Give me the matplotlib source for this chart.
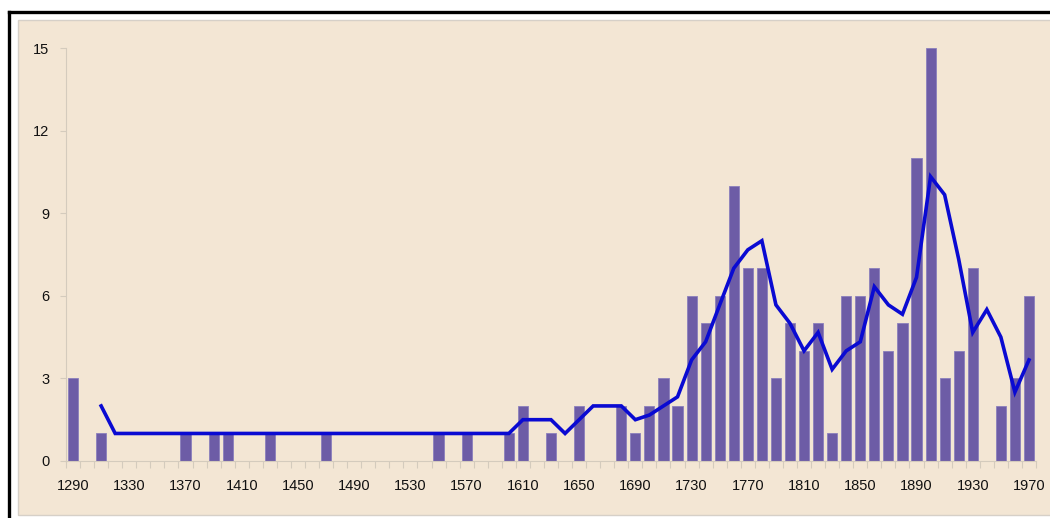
import numpy as np
import matplotlib
matplotlib.use("Agg")
import matplotlib.pyplot as plt
from matplotlib.patches import Rectangle

plt.rcParams['font.family'] = ['Liberation Sans', 'DejaVu Sans']

# decades 1290 .. 1970
years = list(range(1290, 1980, 10))

counts = [3, 0, 1, 0, 0, 0, 0, 0, 1, 0,      # 1290-1380
          1, 1, 0, 0, 1, 0, 0, 0, 1, 0,      # 1390-1480
          0, 0, 0, 0, 0, 0, 1, 0, 1, 0,      # 1490-1580
          0, 1, 2, 0, 1, 0, 2, 0, 0, 2,      # 1590-1680
          1, 2, 3, 2, 6, 5, 6, 10, 7, 7,     # 1690-1780
          3, 5, 4, 5, 1, 6, 6, 7, 4, 5,      # 1790-1880
          11, 15, 3, 4, 7, 0, 2, 3, 6]       # 1890-1970

# moving average line (None where not drawn)
trend = [None, None, 2,
         1, 1, 1, 1, 1, 1, 1, 1, 1, 1,
         1, 1, 1, 1, 1, 1, 1, 1, 1, 1,
         1, 1, 1, 1, 1, 1, 1, 1, 1,
         1.5, 1.5, 1.5, 1, 1.5, 2, 2, 2, 1.5, 1.67,
         2, 2.33, 3.67, 4.33, 5.67, 7, 7.67, 8, 5.67, 5,
         4, 4.67, 3.33, 4, 4.33, 6.33, 5.67, 5.33, 6.67, 10.33,
         9.67, 7.33, 4.67, 5.5, 4.5, 2.5, 3.67]

W, H = 1050, 518
fig = plt.figure(figsize=(W / 100, H / 100), dpi=100)
fig.patch.set_facecolor('white')

# beige chart area and black frame (behind the axes)
fig.patches.append(Rectangle((18 / W, 3 / H), 1.0, (515 - 20) / H,
                             transform=fig.transFigure, facecolor='#f3e6d4',
                             edgecolor='#d6d0c8', linewidth=1.0, zorder=-10))
fig.lines.append(plt.Line2D([9 / W, 1.0], [1 - 11.5 / H, 1 - 11.5 / H],
                            transform=fig.transFigure, color='black',
                            linewidth=2.4, zorder=-9))
fig.lines.append(plt.Line2D([9 / W, 9 / W], [0, 1 - 11.5 / H],
                            transform=fig.transFigure, color='black',
                            linewidth=2.4, zorder=-9))

ax = fig.add_axes([66 / W, (H - 461) / H, (1036 - 66) / W, (461 - 48) / H])
ax.set_facecolor('none')

x = np.arange(len(years))
ax.bar(x, counts, width=0.72, color='#6d5ca6', edgecolor='#8b7fbc', linewidth=0.6, zorder=2)

ty = np.array([np.nan if v is None else v for v in trend], dtype=float)
ax.plot(x, ty, color='#0a0ad2', linewidth=2.6, zorder=3, solid_joinstyle='miter')

ax.set_xlim(-0.5, len(years) - 0.5)
ax.set_ylim(0, 15)

axis_col = '#d4cbbd'
for s in ['top', 'right']:
    ax.spines[s].set_visible(False)
ax.spines['left'].set_color(axis_col)
ax.spines['bottom'].set_color(axis_col)

ax.set_yticks([0, 3, 6, 9, 12, 15])
ax.tick_params(axis='y', length=4, color=axis_col, pad=8, labelsize=10.5, labelcolor='#111111')

# tick marks at category boundaries, labels every 4th decade
ax.set_xticks(np.arange(-0.5, len(years), 1.0))
ax.set_xticklabels([])
ax.tick_params(axis='x', which='major', length=5, color=axis_col)
ax.set_xticks(x[::4], minor=True)
ax.set_xticklabels([str(y) for y in years[::4]], minor=True)
ax.tick_params(axis='x', which='minor', length=0, pad=13, labelsize=10.5, labelcolor='#111111')

fig.savefig('out.png', dpi=100)
